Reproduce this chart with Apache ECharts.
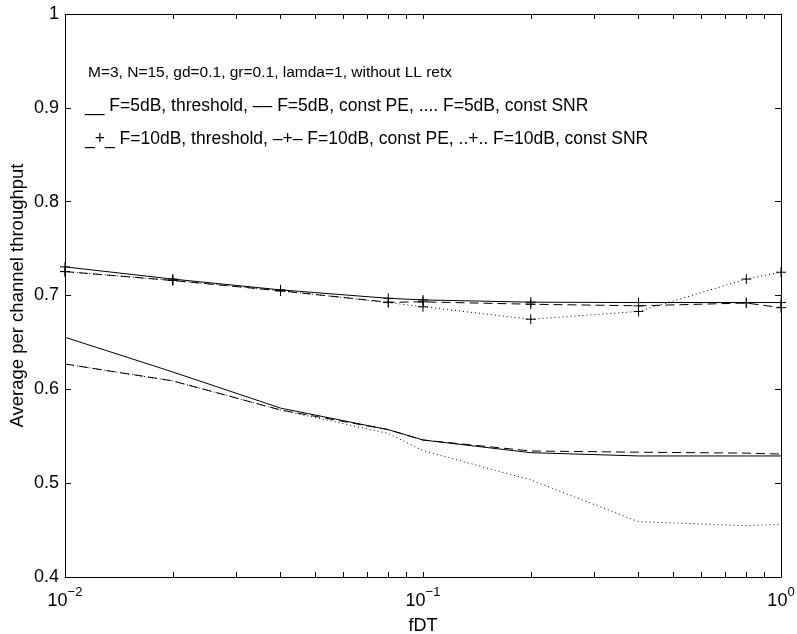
<!DOCTYPE html>
<html>
<head>
<meta charset="utf-8">
<script src="https://cdn.jsdelivr.net/npm/echarts@6/dist/echarts.min.js"></script>
<style>html,body{margin:0;padding:0;background:#fff}#c{width:797px;height:634px}</style>
</head>
<body>
<div id="c"></div>
<script>
// fDT values (x)
const fDT = [0.01, 0.02, 0.04, 0.08, 0.1, 0.2, 0.4, 0.8, 1];
// F=5dB
const f5Threshold = [0.6555, 0.6185, 0.580, 0.557, 0.546, 0.5325, 0.529, 0.529, 0.529];
const f5ConstPE   = [0.627, 0.609, 0.578, 0.557, 0.546, 0.5343, 0.533, 0.532, 0.531];
const f5ConstSNR  = [0.627, 0.609, 0.578, 0.553, 0.5347, 0.5034, 0.459, 0.4547, 0.4562];
// F=10dB
const f10Threshold = [0.7305, 0.7175, 0.706, 0.697, 0.6953, 0.6929, 0.6925, 0.6925, 0.6925];
const f10ConstPE   = [0.7255, 0.716, 0.705, 0.6928, 0.6932, 0.6907, 0.689, 0.692, 0.687];
const f10ConstSNR  = [0.7255, 0.716, 0.705, 0.6925, 0.688, 0.6747, 0.683, 0.7175, 0.7248];
// axis ticks
const yTicks = [0.4, 0.5, 0.6, 0.7, 0.8, 0.9, 1];
const xMajor = [0.01, 0.1, 1];
const xAllTicks = [0.01,0.02,0.03,0.04,0.05,0.06,0.07,0.08,0.09,0.1,0.2,0.3,0.4,0.5,0.6,0.7,0.8,0.9,1];
const annotLines = [
  'M=3, N=15, gd=0.1, gr=0.1, lamda=1, without LL retx',
  '__ F=5dB, threshold, \u2013\u2013 F=5dB, const PE, .... F=5dB, const SNR',
  '_+_ F=10dB, threshold, \u2013+\u2013 F=10dB, const PE, ..+.. F=10dB, const SNR'
];

const FONT = 'Liberation Sans, Arial, Helvetica, sans-serif';
const plus = 'path://M5 0V10M0 5H10';
function pairs(ys){ return fDT.map((x,i)=>[x, ys[i]]); }
function mk(name, ys, type, marker){
  return {
    name, type:'line', data: pairs(ys), xAxisIndex:0, yAxisIndex:0,
    symbol: marker ? plus : 'none', symbolSize: 10, showSymbol: !!marker,
    itemStyle: {color:'none', borderColor:'#000', borderWidth:1},
    lineStyle: {color:'#000', width: 1, type: type},
    emphasis:{disabled:true}, animation:false, clip:false, z: 3
  };
}
const chart = echarts.init(document.getElementById('c'), null, {renderer:'canvas'});
const axCommonX = {
  type:'log', logBase:10, min:0.01, max:1,
  axisLine:{show:true, onZero:false, lineStyle:{color:'#000', width:1}},
  axisTick:{show:true, inside:true, length:5, customValues: xAllTicks, lineStyle:{color:'#000'}},
  splitLine:{show:false}, minorTick:{show:false}
};
const axCommonY = {
  type:'value', min:0.4, max:1, interval:0.1,
  axisLine:{show:true, onZero:false, lineStyle:{color:'#000', width:1}},
  axisTick:{show:true, inside:true, length:6, customValues: yTicks, lineStyle:{color:'#000'}},
  splitLine:{show:false}
};
chart.setOption({
  backgroundColor:'#fff',
  animation:false,
  grid:{left:65, top:14, right:16, bottom:57, containLabel:false, outerBoundsMode:'none'},
  xAxis:[
    Object.assign({}, axCommonX, {
      position:'bottom', name:'fDT', nameLocation:'middle', nameGap:40, nameMoveOverlap:false,
      nameTextStyle:{fontFamily:FONT, fontSize:18, color:'#000'},
      axisLabel:{show:true, margin:9, customValues:xMajor, color:'#000', fontFamily:FONT,
        formatter: v => { const e = Math.round(Math.log10(v)); return '{b|10}{s|' + (e<0?'\u2212'+(-e):e) + '}'; },
        rich:{ b:{fontSize:18, fontFamily:FONT, color:'#000', lineHeight:24, verticalAlign:'bottom'},
               s:{fontSize:13, fontFamily:FONT, color:'#000', lineHeight:13, verticalAlign:'top'} } }
    }),
    Object.assign({}, axCommonX, {position:'top', axisLabel:{show:false}})
  ],
  yAxis:[
    Object.assign({}, axCommonY, {
      position:'left', name:'Average per channel throughput', nameLocation:'middle', nameGap:38, nameMoveOverlap:false,
      nameTextStyle:{fontFamily:FONT, fontSize:18.5, color:'#000'},
      axisLabel:{show:true, margin:6, color:'#000', fontFamily:FONT, fontSize:18, customValues:yTicks,
        formatter: v => (Math.abs(v-1)<1e-9 ? '1' : v.toFixed(1))}
    }),
    Object.assign({}, axCommonY, {position:'right', axisLabel:{show:false}})
  ],
  graphic: annotLines.map((t,i)=>({
    type:'text', left:[88, 85, 85][i], top:[65, 97, 130][i], z:10,
    style:{text:t, fontFamily:FONT, fontSize:[15.5, 17.5, 17.5][i], fill:'#000'}
  })),
  series:[
    mk('F=5dB, threshold', f5Threshold, 'solid', false),
    mk('F=5dB, const PE', f5ConstPE, [9,5], false),
    mk('F=5dB, const SNR', f5ConstSNR, [1,3], false),
    mk('F=10dB, threshold', f10Threshold, 'solid', true),
    mk('F=10dB, const PE', f10ConstPE, [9,5], true),
    mk('F=10dB, const SNR', f10ConstSNR, [1,3], true)
  ]
});
</script>
</body>
</html>
